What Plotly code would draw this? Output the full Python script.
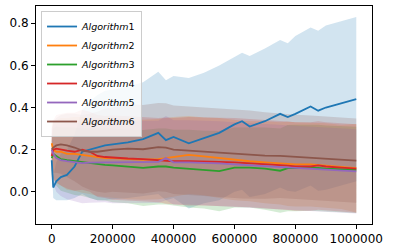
import plotly.graph_objects as go

steps = [0, 5000, 15000, 30000, 50000, 75000, 100000, 125000, 150000, 175000, 200000,
         250000, 300000, 350000, 375000, 400000, 450000, 500000, 550000, 600000, 625000,
         650000, 700000, 750000, 775000, 800000, 850000, 875000, 900000, 950000, 1000000]

names = ["Algorithm1", "Algorithm2", "Algorithm3", "Algorithm4", "Algorithm5", "Algorithm6"]
colors = ["#1f77b4", "#ff7f0e", "#2ca02c", "#d62728", "#9467bd", "#8c564b"]

mean_alg1 = [0.15, 0.02, 0.05, 0.07, 0.08, 0.12, 0.19, 0.20, 0.21, 0.22, 0.225,
             0.235, 0.25, 0.28, 0.245, 0.26, 0.23, 0.255, 0.28, 0.32, 0.335,
             0.31, 0.335, 0.37, 0.355, 0.37, 0.405, 0.385, 0.40, 0.42, 0.44]
std_alg1 = [0.01, 0.05, 0.09, 0.11, 0.12, 0.15, 0.20, 0.23, 0.25, 0.26, 0.26,
            0.265, 0.27, 0.29, 0.285, 0.29, 0.31, 0.31, 0.32, 0.32, 0.325,
            0.335, 0.345, 0.35, 0.35, 0.37, 0.375, 0.38, 0.39, 0.39, 0.39]

mean_alg2 = [0.23, 0.20, 0.19, 0.19, 0.18, 0.18, 0.175, 0.17, 0.165, 0.16, 0.16,
             0.155, 0.152, 0.155, 0.16, 0.165, 0.175, 0.168, 0.16, 0.15, 0.147,
             0.145, 0.14, 0.135, 0.133, 0.13, 0.13, 0.127, 0.125, 0.118, 0.112]
std_alg2 = [0.10, 0.13, 0.15, 0.16, 0.17, 0.175, 0.18, 0.18, 0.185, 0.185, 0.19,
            0.19, 0.19, 0.19, 0.19, 0.19, 0.185, 0.185, 0.19, 0.19, 0.19,
            0.19, 0.195, 0.195, 0.2, 0.2, 0.2, 0.2, 0.2, 0.2, 0.21]

mean_alg3 = [0.16, 0.18, 0.17, 0.155, 0.15, 0.145, 0.14, 0.135, 0.13, 0.128, 0.125,
             0.12, 0.113, 0.12, 0.12, 0.115, 0.11, 0.105, 0.098, 0.115, 0.115,
             0.115, 0.11, 0.10, 0.112, 0.113, 0.115, 0.113, 0.11, 0.108, 0.104]
std_alg3 = [0.08, 0.12, 0.14, 0.15, 0.155, 0.16, 0.16, 0.165, 0.17, 0.17, 0.175,
            0.175, 0.18, 0.18, 0.18, 0.18, 0.185, 0.185, 0.19, 0.19, 0.19,
            0.19, 0.195, 0.2, 0.205, 0.205, 0.205, 0.205, 0.205, 0.205, 0.205]

mean_alg4 = [0.17, 0.20, 0.205, 0.20, 0.195, 0.19, 0.20, 0.19, 0.17, 0.165, 0.162,
             0.158, 0.155, 0.15, 0.148, 0.145, 0.145, 0.145, 0.142, 0.14, 0.138,
             0.136, 0.132, 0.127, 0.124, 0.12, 0.12, 0.125, 0.12, 0.115, 0.11]
std_alg4 = [0.10, 0.14, 0.16, 0.17, 0.18, 0.185, 0.19, 0.19, 0.195, 0.195, 0.2,
            0.2, 0.2, 0.2, 0.205, 0.205, 0.21, 0.21, 0.21, 0.21, 0.21,
            0.21, 0.21, 0.21, 0.21, 0.21, 0.21, 0.21, 0.21, 0.21, 0.21]

mean_alg5 = [0.20, 0.18, 0.16, 0.15, 0.145, 0.14, 0.136, 0.138, 0.14, 0.14, 0.14,
             0.14, 0.142, 0.142, 0.16, 0.14, 0.14, 0.138, 0.135, 0.13, 0.128,
             0.126, 0.122, 0.117, 0.115, 0.112, 0.108, 0.106, 0.104, 0.10, 0.097]
std_alg5 = [0.10, 0.14, 0.16, 0.17, 0.18, 0.185, 0.19, 0.19, 0.19, 0.19, 0.195,
            0.195, 0.195, 0.195, 0.2, 0.2, 0.2, 0.2, 0.2, 0.2, 0.2,
            0.2, 0.2, 0.2, 0.2, 0.2, 0.2, 0.2, 0.2, 0.2, 0.2]

mean_alg6 = [0.20, 0.21, 0.22, 0.225, 0.22, 0.21, 0.195, 0.19, 0.19, 0.195, 0.20,
             0.205, 0.202, 0.212, 0.21, 0.20, 0.195, 0.19, 0.185, 0.18, 0.178,
             0.176, 0.172, 0.17, 0.168, 0.166, 0.162, 0.16, 0.157, 0.152, 0.148]
std_alg6 = [0.10, 0.12, 0.13, 0.14, 0.15, 0.16, 0.17, 0.18, 0.19, 0.2, 0.2,
            0.21, 0.21, 0.21, 0.21, 0.21, 0.21, 0.21, 0.21, 0.21, 0.21,
            0.21, 0.205, 0.2, 0.2, 0.2, 0.2, 0.2, 0.2, 0.2, 0.2]

means = [mean_alg1, mean_alg2, mean_alg3, mean_alg4, mean_alg5, mean_alg6]
stds = [std_alg1, std_alg2, std_alg3, std_alg4, std_alg5, std_alg6]

x_ticks = [0, 200000, 400000, 600000, 800000, 1000000]
y_ticks = [0.0, 0.2, 0.4, 0.6, 0.8]


def rgba(hex_color, a):
    h = hex_color.lstrip("#")
    r, g, b = int(h[0:2], 16), int(h[2:4], 16), int(h[4:6], 16)
    return f"rgba({r},{g},{b},{a})"


fig = go.Figure()

for name, color, m, s in zip(names, colors, means, stds):
    upper = [a + b for a, b in zip(m, s)]
    lower = [a - b for a, b in zip(m, s)]
    fig.add_trace(go.Scatter(
        x=steps + steps[::-1], y=upper + lower[::-1],
        fill="toself", fillcolor=rgba(color, 0.2),
        line=dict(width=0), mode="lines", hoverinfo="skip", showlegend=False))

for name, color, m in zip(names, colors, means):
    fig.add_trace(go.Scatter(
        x=steps, y=m, mode="lines", name="<i>Algorithm</i>" + name[-1],
        line=dict(color=color, width=1.8)))

axis_common = dict(showline=True, mirror=True, linecolor="black", linewidth=1,
                   showgrid=False, zeroline=False, ticks="outside", ticklen=4,
                   tickwidth=1, tickcolor="black", automargin=False,
                   tickfont=dict(family="DejaVu Sans", size=12, color="black"))

fig.update_layout(
    width=393, height=252,
    margin=dict(l=36, r=21, t=6, b=28),
    paper_bgcolor="white", plot_bgcolor="white",
    xaxis=dict(range=[-51600, 1051600], tickvals=x_ticks,
               ticktext=[str(v) for v in x_ticks], **axis_common),
    yaxis=dict(range=[-0.153, 0.882], tickvals=y_ticks,
               ticktext=[f"{v:.1f}" for v in y_ticks], **axis_common),
    legend=dict(x=0.015, y=0.977, xanchor="left", yanchor="top",
                bgcolor="rgba(255,255,255,0.8)", bordercolor="#cccccc", borderwidth=1,
                font=dict(family="DejaVu Sans", size=9.5, color="black"),
                tracegroupgap=0, itemwidth=30),
    showlegend=True,
)

fig.write_html("out.html", config={"displayModeBar": False},
               post_script="document.body.style.margin='0';document.body.style.padding='0';")
